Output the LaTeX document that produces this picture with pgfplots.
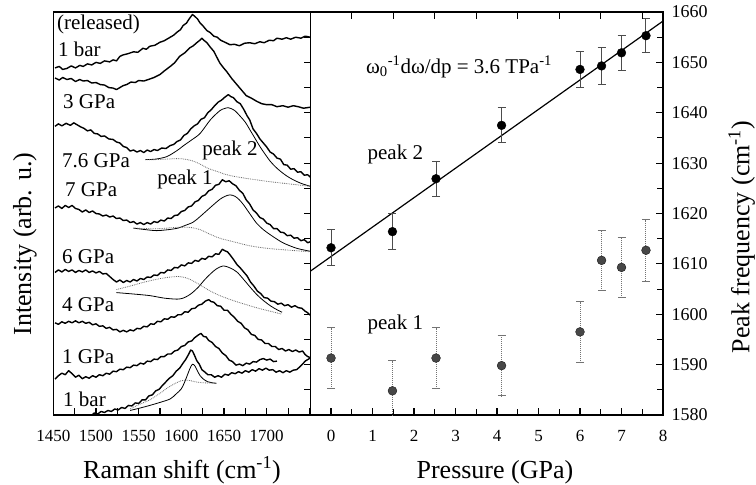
\documentclass[border=0pt]{standalone}
\usepackage{pgfplots}
\pgfplotsset{compat=1.18}
\usepackage{fontspec}
\setmainfont{Liberation Serif}
\newcommand{\ann}{\fontsize{21}{21}\selectfont}
\newcommand{\lab}{\fontsize{26}{26}\selectfont}
\begin{document}
\begin{tikzpicture}
\path[use as bounding box] (-53.3pt,-70pt) rectangle (702.7pt,415pt);
% ---------------- left panel: spectra ----------------
\begin{axis}[
  at={(0pt,0pt)}, anchor=south west, scale only axis,
  width=257.4pt, height=403pt,
  xmin=1450, xmax=1751.5, ymin=0, ymax=80,
  axis line style={line width=1.5pt},
  tick align=inside, major tick length=7pt,
  tick style={line width=1.1pt, black},
  xtick={1450,1475,...,1750},
  xticklabels={1450,,1500,,1550,,1600,,1650,,1700,,},
  xtick pos=left,
  ytick={0,5,...,80}, yticklabels={}, ytick pos=right,
  xticklabel style={font=\fontsize{17}{17}\selectfont, yshift=-12pt},
  xlabel={Raman shift (cm\textsuperscript{-1})},
  xlabel style={at={(axis description cs:0.5,0)}, anchor=base, yshift=-63pt, font=\lab},
  ylabel={Intensity (arb. u.)},
  ylabel style={at={(axis description cs:-0.0866,0.424)}, anchor=base, rotate=0, font=\lab},
  every axis plot/.append style={line join=round},
]
% released 1 bar
\addplot[black, line width=1.4pt] table {
1452 68.9
1457 69.2
1461 68.6
1466 68.8
1471 69.3
1476 68.9
1481 69.4
1485 69.2
1490 69.7
1495 69.5
1500 70.0
1505 69.8
1510 70.3
1516 70.1
1520 70.5
1524 70.3
1528 71.2
1532 71.5
1537 71.7
1544 72.1
1549 72.0
1555 72.8
1559 72.6
1563 73.2
1569 73.4
1575 74.0
1580 74.3
1587 75.0
1591 75.4
1595 76.0
1599 76.5
1602 77.3
1606 77.8
1609 78.6
1613 79.5
1616 79.1
1619 78.6
1622 77.8
1625 77.3
1630 76.3
1634 75.9
1638 75.2
1642 75.0
1646 74.4
1651 74.0
1657 73.5
1662 73.6
1668 73.3
1674 73.8
1680 73.9
1686 73.7
1692 74.1
1697 73.9
1703 74.4
1708 74.3
1712 74.8
1718 74.6
1723 74.9
1728 74.6
1734 75.0
1740 74.8
1745 75.2
1751 75.0
};
% 3 GPa
\addplot[black, line width=1.4pt] table {
1452 66.9
1457 66.5
1461 67.0
1466 66.6
1471 66.8
1476 66.2
1481 66.6
1485 66.3
1490 66.4
1495 65.9
1500 66.0
1505 65.6
1510 65.5
1515 65.0
1520 64.9
1524 64.6
1528 65.0
1532 65.4
1536 65.6
1541 66.1
1546 66.0
1550 66.4
1556 66.3
1563 66.7
1568 67.0
1575 67.6
1580 68.3
1587 69.2
1592 69.9
1598 71.2
1604 71.9
1610 72.9
1614 73.3
1618 73.9
1621 74.3
1624 74.8
1627 74.3
1630 73.9
1634 73.0
1638 72.2
1641 71.2
1645 69.9
1649 69.0
1653 68.2
1659 66.8
1665 65.6
1670 64.6
1676 63.4
1682 62.9
1688 62.3
1694 61.8
1700 61.6
1706 61.6
1712 61.2
1719 61.4
1725 61.1
1731 61.4
1737 61.2
1743 60.9
1751 61.1
};
% 7.6 GPa
\addplot[black, line width=1.4pt] table {
1452 57.3
1456 57.8
1460 57.4
1465 57.9
1470 57.5
1474 58.0
1478 57.6
1482 57.2
1486 56.9
1490 56.4
1494 56.6
1498 55.9
1502 55.8
1506 55.3
1510 55.4
1515 54.8
1520 54.7
1524 54.2
1528 54.0
1532 53.3
1536 53.1
1540 52.4
1544 52.6
1548 52.2
1552 52.5
1556 52.1
1560 52.6
1564 52.3
1568 52.7
1572 52.5
1577 53.0
1582 52.9
1587 53.5
1591 53.7
1595 54.3
1599 54.6
1603 55.5
1607 55.9
1611 56.8
1615 57.4
1619 57.8
1623 58.7
1627 59.0
1631 60.0
1635 60.6
1639 61.4
1643 62.1
1647 62.5
1651 63.1
1655 63.6
1658 63.2
1661 63.0
1665 62.2
1669 61.8
1673 60.7
1677 59.4
1680 58.6
1684 56.8
1688 55.9
1692 54.8
1696 54.0
1700 53.2
1704 52.2
1708 51.8
1712 51.0
1716 50.8
1720 49.7
1724 49.6
1728 48.8
1732 48.9
1736 48.2
1740 48.3
1744 47.6
1748 47.7
1751 47.2
};
\addplot[black, line width=0.8pt, smooth] table {
1558 50.7
1570 50.8
1583 51.3
1595 52.5
1602 53.4
1612 54.6
1622 55.9
1634 58.6
1645 60.4
1650 60.8
1655 61.0
1662 60.5
1669 59.3
1675 58.1
1680 56.7
1686 55.0
1692 53.3
1698 51.8
1704 50.4
1710 49.3
1716 48.4
1723 47.5
1731 46.7
1740 46.0
1751 45.4
};
\addplot[black!60, line width=0.8pt, densely dotted, smooth] table {
1558 50.7
1570 50.7
1583 50.8
1595 50.9
1604 50.8
1614 50.4
1622 49.8
1632 48.9
1641 48.4
1651 47.8
1661 47.4
1675 47.0
1700 46.4
1725 45.9
1751 45.4
};
% 7 GPa
\addplot[black, line width=1.4pt] table {
1452 41.1
1456 41.5
1460 41.0
1464 41.6
1468 41.2
1472 41.6
1476 41.0
1480 40.8
1484 40.3
1488 40.7
1492 40.2
1496 40.5
1500 40.0
1504 39.9
1508 39.5
1512 39.7
1516 39.3
1520 39.5
1524 39.0
1528 39.1
1532 38.6
1536 38.7
1540 38.2
1544 38.4
1548 37.9
1552 38.2
1556 37.8
1560 38.2
1564 37.9
1568 38.4
1572 38.2
1576 38.7
1580 38.5
1584 39.1
1588 39.0
1592 39.6
1596 39.7
1600 40.4
1604 40.6
1608 41.3
1612 41.5
1616 42.3
1620 42.6
1624 43.4
1628 43.7
1632 44.5
1636 44.8
1640 45.6
1644 45.8
1648 46.7
1652 46.3
1656 46.5
1660 45.9
1664 45.5
1668 44.6
1672 44.0
1676 42.7
1680 41.9
1684 40.7
1688 40.1
1692 39.2
1696 38.9
1700 38.1
1704 37.8
1708 37.0
1712 37.0
1716 36.3
1720 36.2
1724 35.6
1728 35.7
1732 35.1
1736 35.2
1740 34.6
1744 34.8
1748 34.2
1751 34.4
};
\addplot[black, line width=0.8pt, smooth] table {
1544 37.1
1558 36.8
1571 36.6
1585 36.8
1596 37.1
1604 37.6
1614 38.3
1622 39.4
1630 40.6
1638 41.8
1645 42.8
1651 43.4
1657 43.7
1663 43.4
1668 42.7
1673 41.7
1680 40.0
1688 38.1
1696 36.8
1704 35.8
1712 34.9
1720 34.1
1735 33.1
1751 32.5
};
\addplot[black!60, line width=0.8pt, densely dotted, smooth] table {
1544 37.1
1560 37.0
1575 37.0
1590 37.2
1603 37.3
1612 37.2
1622 36.8
1632 36.0
1645 35.1
1661 34.4
1680 33.6
1700 33.1
1720 32.8
1751 32.4
};
% 6 GPa
\addplot[black, line width=1.4pt] table {
1452 28.3
1456 28.8
1460 28.4
1464 28.9
1468 28.5
1472 28.8
1476 28.3
1480 28.7
1484 28.4
1488 28.8
1492 28.3
1496 28.6
1500 28.2
1504 28.5
1508 28.0
1512 28.1
1516 27.5
1520 26.9
1524 26.4
1528 26.8
1532 26.3
1536 26.7
1540 26.4
1544 26.9
1548 26.6
1552 27.1
1556 26.9
1560 27.4
1564 27.3
1568 27.8
1572 27.7
1576 28.3
1580 28.2
1584 28.8
1588 28.7
1592 29.3
1596 29.2
1600 29.8
1604 29.6
1608 30.2
1612 30.1
1616 30.7
1620 30.5
1624 31.1
1628 30.9
1632 31.5
1636 31.4
1640 32.0
1644 31.9
1648 32.9
1651 32.6
1654 32.4
1657 31.8
1661 30.9
1665 29.9
1669 29.2
1673 28.4
1677 27.6
1681 26.4
1685 25.6
1689 24.6
1693 24.1
1697 23.3
1701 23.2
1705 22.6
1709 22.5
1713 22.0
1717 22.2
1721 21.7
1725 21.9
1729 21.4
1733 21.7
1737 21.3
1741 21.2
1745 20.6
1748 20.3
1751 19.8
};
\addplot[black, line width=0.8pt, smooth] table {
1524 24.3
1545 24.0
1563 23.7
1580 23.2
1595 23.0
1602 23.2
1608 23.7
1613 24.3
1620 25.4
1627 26.8
1634 28.0
1641 29.0
1649 29.6
1657 29.2
1665 28.4
1673 26.9
1681 25.3
1689 23.8
1697 22.6
1705 21.6
1712 20.9
1718 20.4
};
\addplot[black!60, line width=0.8pt, densely dotted, smooth] table {
1524 24.9
1540 25.6
1555 26.3
1570 26.9
1583 27.3
1597 27.5
1606 27.2
1614 26.6
1624 25.6
1634 24.6
1645 23.7
1661 22.7
1676 21.9
1690 21.2
1704 20.6
1718 20.0
};
% 4 GPa
\addplot[black, line width=1.4pt] table {
1452 18.3
1456 18.0
1460 18.5
1464 18.2
1468 18.6
1472 18.3
1476 18.7
1480 18.3
1484 18.6
1488 18.2
1492 18.4
1496 17.9
1500 18.1
1504 17.6
1508 17.7
1512 17.2
1516 17.4
1520 16.9
1524 17.0
1528 16.5
1532 16.8
1536 16.5
1540 16.9
1544 16.7
1548 17.2
1552 17.1
1556 17.6
1560 17.5
1564 18.1
1568 18.0
1572 18.6
1576 18.5
1580 19.1
1584 19.0
1588 19.5
1592 19.4
1596 19.9
1600 19.9
1604 20.5
1608 20.4
1612 21.1
1616 21.2
1620 21.8
1624 22.0
1628 22.6
1632 22.9
1635 22.5
1638 22.4
1642 21.7
1646 21.6
1650 20.8
1654 20.8
1658 20.0
1662 19.4
1666 18.6
1670 18.2
1674 17.3
1678 16.9
1682 16.0
1686 15.8
1690 15.0
1694 14.9
1698 14.2
1702 14.2
1706 13.6
1710 13.6
1714 13.0
1718 13.2
1722 12.7
1726 13.0
1730 12.6
1734 12.9
1738 12.5
1742 12.7
1745 12.0
1748 11.6
1751 11.4
};
% 1 GPa
\addplot[black, line width=1.4pt] table {
1452 7.1
1456 7.8
1460 8.3
1464 8.0
1468 8.8
1472 8.2
1476 7.5
1480 7.9
1484 7.2
1488 7.6
1492 7.3
1496 7.8
1500 7.5
1504 8.0
1508 7.8
1512 8.3
1516 8.1
1520 8.7
1524 8.6
1528 9.1
1532 9.0
1536 9.5
1540 9.4
1544 9.9
1548 9.8
1552 10.3
1556 10.1
1560 10.7
1564 10.6
1568 11.1
1572 11.0
1576 11.6
1580 11.6
1584 12.1
1588 12.1
1592 12.7
1596 12.9
1600 13.6
1604 13.8
1608 14.5
1612 14.7
1616 15.4
1620 15.9
1623 16.2
1626 15.6
1629 15.5
1632 14.8
1636 14.4
1640 13.6
1644 13.2
1648 12.3
1652 11.8
1656 10.9
1660 10.6
1664 9.9
1668 10.1
1672 9.8
1676 10.3
1680 10.1
1684 10.6
1688 10.5
1692 11.0
1696 11.2
1700 10.9
1704 11.1
1708 10.6
1712 10.7
};
% 1 bar
\addplot[black, line width=1.4pt] table {
1486 -0.6
1490 0.0
1494 -0.2
1498 0.4
1502 0.2
1506 0.7
1510 0.5
1514 0.9
1518 0.7
1522 1.2
1526 1.0
1530 1.5
1534 1.3
1538 1.9
1542 1.8
1546 2.4
1550 2.3
1554 3.0
1558 3.0
1562 3.8
1566 4.0
1570 4.8
1574 5.1
1578 5.9
1582 6.6
1586 7.3
1590 7.8
1594 8.7
1598 9.3
1602 10.3
1605 11.0
1608 11.9
1611 12.9
1613 12.7
1615 12.0
1618 10.8
1621 10.1
1624 9.0
1627 8.6
1631 8.0
1635 8.0
1639 7.5
1643 7.8
1647 7.5
1651 8.1
1655 7.9
1659 8.4
1663 8.2
1667 8.6
1671 8.3
1675 8.8
1679 8.5
1683 9.0
1687 8.7
1691 9.2
1695 8.9
1699 9.3
1703 8.9
1707 9.0
1711 8.5
1715 8.8
1719 8.4
1723 8.8
1727 8.5
1731 8.9
1735 9.0
1739 9.6
1742 10.1
1745 10.7
1748 11.0
1751 11.3
};
\addplot[black, line width=0.8pt, smooth] table {
1540 0.9
1552 1.4
1563 1.9
1575 2.5
1587 3.2
1594 4.2
1600 5.2
1604 6.6
1607 7.9
1610 9.2
1613 10.1
1616 9.7
1619 8.7
1622 7.8
1626 7.1
1631 6.6
1636 6.4
1641 6.3
};
\addplot[black!60, line width=0.8pt, densely dotted, smooth] table {
1540 1.2
1552 2.2
1563 3.0
1575 4.3
1583 5.3
1592 6.2
1600 6.8
1608 6.9
1616 6.6
1625 6.4
1641 6.3
};
\node[anchor=west, inner sep=0pt, font=\ann] at (axis cs:1454.3,77.5) {(released)};
\node[anchor=west, inner sep=0pt, font=\ann] at (axis cs:1455.5,72.6) {1 bar};
\node[anchor=west, inner sep=0pt, font=\ann] at (axis cs:1461.4,62.2) {3 GPa};
\node[anchor=west, inner sep=0pt, font=\ann] at (axis cs:1460.2,50.5) {7.6 GPa};
\node[anchor=west, inner sep=0pt, font=\ann] at (axis cs:1463.7,44.7) {7 GPa};
\node[anchor=west, inner sep=0pt, font=\ann] at (axis cs:1624.3,52.5) {peak 2};
\node[anchor=west, inner sep=0pt, font=\ann] at (axis cs:1571.6,46.7) {peak 1};
\node[anchor=west, inner sep=0pt, font=\ann] at (axis cs:1460.2,31.4) {6 GPa};
\node[anchor=west, inner sep=0pt, font=\ann] at (axis cs:1460.2,21.9) {4 GPa};
\node[anchor=west, inner sep=0pt, font=\ann] at (axis cs:1460.2,11.5) {1 GPa};
\node[anchor=west, inner sep=0pt, font=\ann] at (axis cs:1461.4,3.2) {1 bar};
\end{axis}
% ---------------- right panel: peak positions ----------------
\begin{axis}[
  at={(257.4pt,0pt)}, anchor=south west, scale only axis,
  width=352.3pt, height=403pt,
  xmin=-0.49, xmax=8, ymin=1580, ymax=1660,
  axis line style={line width=1.5pt},
  tick align=inside, major tick length=7pt, minor tick length=6pt,
  tick style={line width=1.1pt, black},
  xtick={0,1,...,8}, minor xtick={0.5,1.5,...,7.5}, xtick pos=left,
  ytick={1580,1590,...,1660}, minor ytick={1585,1595,...,1655},
  ytick pos=right, yticklabel pos=right,
  /pgf/number format/assume math mode=true,
  /pgf/number format/1000 sep={},
  xticklabel style={font=\fontsize{17}{17}\selectfont, yshift=-12pt},
  yticklabel style={font=\fontsize{18}{18}\selectfont, xshift=5pt},
  xlabel={Pressure (GPa)},
  xlabel style={at={(axis description cs:0.523,0)}, anchor=base, yshift=-63pt, font=\lab},
  ylabel={Peak frequency (cm\textsuperscript{-1})},
  ylabel style={at={(axis description cs:1.245,0.4417)}, anchor=base, rotate=0, font=\lab},
]
\addplot[black, line width=1.2pt] coordinates {(-0.49,1608.6) (8,1658.2)};
\addplot[only marks, mark=*, mark size=4.4pt, mark options={fill=black!72, draw=black!90},
  error bars/.cd, y dir=both, y explicit,
  error bar style={line width=1pt, black!55, densely dotted},
  error mark options={rotate=90, mark size=4pt, line width=1pt, black!55}]
  table[x=p, y=f, y error=e] {
p f e
0 1591.3 6.0
1.48 1584.8 6.0
2.53 1591.3 6.0
4.11 1589.8 6.0
6.0 1596.5 6.0
6.52 1610.7 6.0
7.0 1609.3 6.0
7.59 1612.7 6.1
};
\addplot[only marks, mark=*, mark size=4.4pt, mark options={fill=black, draw=black},
  error bars/.cd, y dir=both, y explicit,
  error bar style={line width=1pt, black!70},
  error mark options={rotate=90, mark size=4pt, line width=1pt, black!70}]
  table[x=p, y=f, y error=e] {
p f e
0 1613.2 3.6
1.48 1616.4 3.6
2.53 1626.9 3.5
4.11 1637.5 3.5
6.0 1648.6 3.5
6.52 1649.3 3.6
7.0 1651.9 3.5
7.59 1655.3 3.4
};
\node[anchor=base west, inner sep=0pt, font=\ann] at (axis cs:0.84,1647.8)
  {ω\textsubscript{0}\textsuperscript{-1}dω/dp = 3.6 TPa\textsuperscript{-1}};
\node[anchor=base, inner sep=0pt, font=\ann] at (axis cs:1.55,1630.7) {peak 2};
\node[anchor=base, inner sep=0pt, font=\ann] at (axis cs:1.55,1596.9) {peak 1};
\end{axis}
% top ticks of the right panel
\begin{axis}[
  at={(257.4pt,0pt)}, anchor=south west, scale only axis,
  width=352.3pt, height=403pt,
  xmin=-0.49, xmax=8, ymin=1580, ymax=1660,
  axis x line*=top, axis y line=none,
  axis line style={line width=1.5pt, -},
  tick align=inside, major tick length=7pt,
  tick style={line width=1.1pt, black},
  xtick={0.5,1.5,...,7.5}, xticklabels={},
]
\end{axis}
\end{tikzpicture}
\end{document}
